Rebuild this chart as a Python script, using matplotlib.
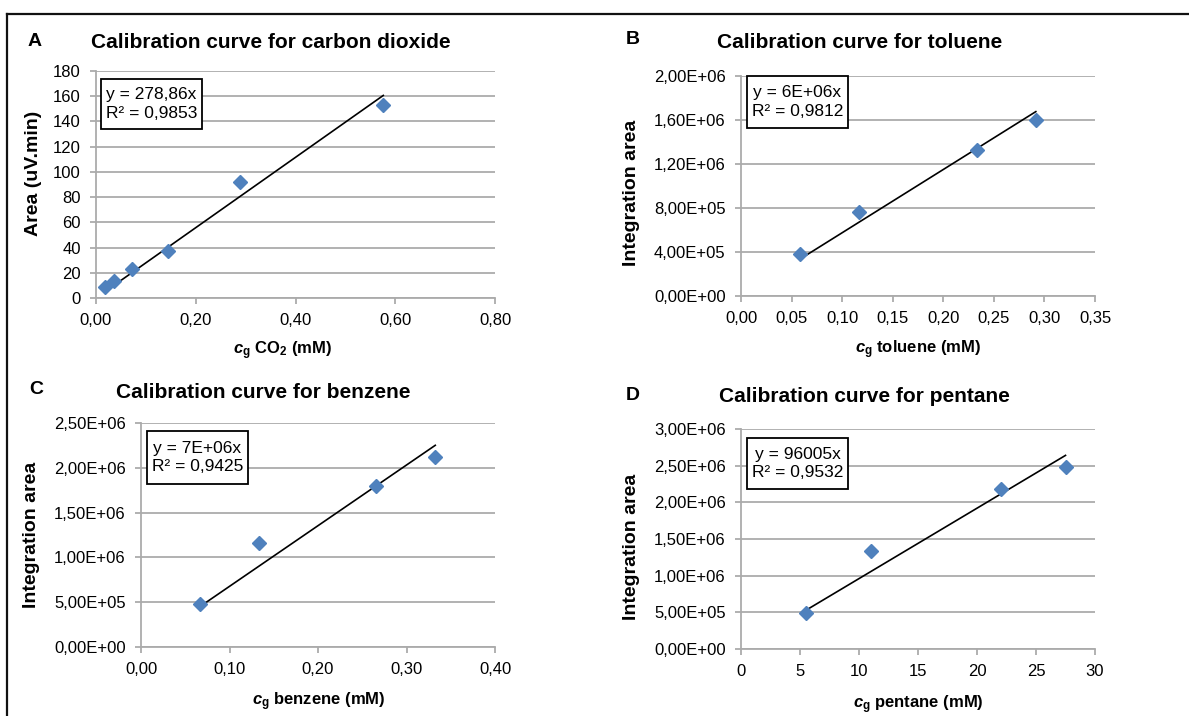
import matplotlib
matplotlib.use("Agg")
import matplotlib.pyplot as plt
from matplotlib.patches import Rectangle
from matplotlib.lines import Line2D
import numpy as np

plt.rcParams['font.family'] = ['Liberation Sans', 'DejaVu Sans']
plt.rcParams['mathtext.fontset'] = 'custom'
plt.rcParams['mathtext.rm'] = 'Liberation Sans:bold'
plt.rcParams['mathtext.it'] = 'Liberation Sans:bold:italic'
plt.rcParams['mathtext.bf'] = 'Liberation Sans:bold'

# ---- data -------------------------------------------------------------
panel_letters = ["A", "B", "C", "D"]
titles = ["Calibration curve for carbon dioxide",
          "Calibration curve for toluene",
          "Calibration curve for benzene",
          "Calibration curve for pentane"]
ylabels = ["Area (uV.min)", "Integration area", "Integration area", "Integration area"]
xlabels = [r"$c_{\mathrm{g}}$ CO$_{\mathrm{2}}$ (mM)",
           r"$c_{\mathrm{g}}$ toluene (mM)",
           r"$c_{\mathrm{g}}$ benzene (mM)",
           r"$c_{\mathrm{g}}$ pentane (mM)"]

co2_conc = [0.018, 0.036, 0.072, 0.144, 0.288, 0.576]
co2_area = [8.5, 13.5, 23.0, 37.5, 92.0, 153.0]

toluene_conc = [0.0583, 0.1166, 0.2332, 0.2915]
toluene_area = [3.82e5, 7.66e5, 1.327e6, 1.60e6]

benzene_conc = [0.0665, 0.133, 0.266, 0.3325]
benzene_area = [4.75e5, 1.164e6, 1.80e6, 2.116e6]

pentane_conc = [5.5, 11.0, 22.0, 27.5]
pentane_area = [4.9e5, 1.331e6, 2.18e6, 2.48e6]

# slopes of the linear trendlines forced through the origin
slopes = [278.86, 5.75e6, 6.77e6, 96005]
equations = ["y = 278,86x\nR² = 0,9853",
             "y = 6E+06x\nR² = 0,9812",
             "y = 7E+06x\nR² = 0,9425",
             "y = 96005x\nR² = 0,9532"]

xticks = [[0.0, 0.2, 0.4, 0.6, 0.8],
          [0.0, 0.05, 0.10, 0.15, 0.20, 0.25, 0.30, 0.35],
          [0.0, 0.1, 0.2, 0.3, 0.4],
          [0, 5, 10, 15, 20, 25, 30]]
xticklabels = [["0,00", "0,20", "0,40", "0,60", "0,80"],
               ["0,00", "0,05", "0,10", "0,15", "0,20", "0,25", "0,30", "0,35"],
               ["0,00", "0,10", "0,20", "0,30", "0,40"],
               ["0", "5", "10", "15", "20", "25", "30"]]
yticks = [[0, 20, 40, 60, 80, 100, 120, 140, 160, 180],
          [0, 4e5, 8e5, 1.2e6, 1.6e6, 2.0e6],
          [0, 5e5, 1.0e6, 1.5e6, 2.0e6, 2.5e6],
          [0, 5e5, 1.0e6, 1.5e6, 2.0e6, 2.5e6, 3.0e6]]
yticklabels = [["0", "20", "40", "60", "80", "100", "120", "140", "160", "180"],
               ["0,00E+00", "4,00E+05", "8,00E+05", "1,20E+06", "1,60E+06", "2,00E+06"],
               ["0,00E+00", "5,00E+05", "1,00E+06", "1,50E+06", "2,00E+06", "2,50E+06"],
               ["0,00E+00", "5,00E+05", "1,00E+06", "1,50E+06", "2,00E+06", "2,50E+06", "3,00E+06"]]

series_x = [co2_conc, toluene_conc, benzene_conc, pentane_conc]
series_y = [co2_area, toluene_area, benzene_area, pentane_area]

# ---- layout (pixels, origin top-left) ---------------------------------
W, H = 1189, 716
axes_px = [(96, 495, 71, 298), (741, 1095, 76, 296),
           (141, 495, 423, 647), (741, 1095, 429, 649)]
title_px = [(271, 42), (860, 42), (263, 393), (864, 397)]
letter_px = [(35, 42), (633, 40), (36, 389), (633, 395)]
ylabel_px = [(34, 173), (631, 193), (32, 535), (631, 547)]
xlabel_px = [(282, 351), (918, 350), (319, 702), (918, 705)]
eqbox_px = [(101, 202, 79, 129), (747, 848, 76, 128),
            (147, 248, 431, 484), (747, 848, 438, 489)]

GRID = "#ABABAB"
BLUE = "#4F81BD"

fig = plt.figure(figsize=(W / 100, H / 100), dpi=100)


def fx(x):
    return x / W


def fy(y):
    return 1 - y / H


for i in range(4):
    l, r, t, b = axes_px[i]
    ax = fig.add_axes([fx(l), fy(b), (r - l) / W, (b - t) / H])
    ax.set_xlim(xticks[i][0], xticks[i][-1])
    ax.set_ylim(yticks[i][0], yticks[i][-1])
    ax.set_xticks(xticks[i])
    ax.set_xticklabels(xticklabels[i])
    ax.set_yticks(yticks[i])
    ax.set_yticklabels(yticklabels[i])
    for side in ("top", "right"):
        ax.spines[side].set_visible(False)
    for side in ("left", "bottom"):
        ax.spines[side].set_color(GRID)
        ax.spines[side].set_linewidth(1.3)
    ax.tick_params(axis="both", direction="out", length=4, width=1.3,
                   color=GRID, labelsize=12, pad=7, labelcolor="black")
    ax.yaxis.grid(True, color=GRID, linewidth=1.3)
    ax.set_axisbelow(True)
    ax.patch.set_alpha(0)

    xs = np.array(series_x[i])
    ys = np.array(series_y[i])
    xline = np.array([xs.min(), xs.max()])
    ax.plot(xline, slopes[i] * xline, color="black", linewidth=1.2, zorder=3)
    ax.plot(xs, ys, linestyle="none", marker="D", markersize=7,
            color=BLUE, markeredgecolor=BLUE, zorder=4, clip_on=False)

    # chart title, panel letter and axis titles
    tx, ty = title_px[i]
    fig.text(fx(tx), fy(ty), titles[i], ha="center", va="center",
             fontsize=15, fontweight="bold")
    lx, ly = letter_px[i]
    fig.text(fx(lx), fy(ly), panel_letters[i], ha="center", va="center",
             fontsize=14, fontweight="bold")
    yx, yy = ylabel_px[i]
    fig.text(fx(yx), fy(yy), ylabels[i], ha="center", va="center",
             rotation=90, fontsize=14, fontweight="bold")
    xx, xy = xlabel_px[i]
    fig.text(fx(xx), fy(xy), xlabels[i], ha="center", va="center",
             fontsize=12, fontweight="bold")

    # trendline equation box
    bl, br, bt, bb = eqbox_px[i]
    fig.add_artist(Rectangle((fx(bl), fy(bb)), (br - bl) / W, (bb - bt) / H,
                             transform=fig.transFigure, facecolor="white",
                             edgecolor="black", linewidth=1.3, zorder=5))
    fig.text(fx((bl + br) / 2), fy((bt + bb) / 2), equations[i],
             ha="center", va="center", multialignment="center",
             fontsize=12.5, linespacing=1.3, zorder=6)

# outer frame (top and left edges)
fig.add_artist(Line2D([fx(7), 1], [fy(14), fy(14)], transform=fig.transFigure,
                      color="#111111", linewidth=1.6))
fig.add_artist(Line2D([fx(7), fx(7)], [fy(14), 0], transform=fig.transFigure,
                      color="#111111", linewidth=1.6))

fig.savefig("out.png", dpi=100)
